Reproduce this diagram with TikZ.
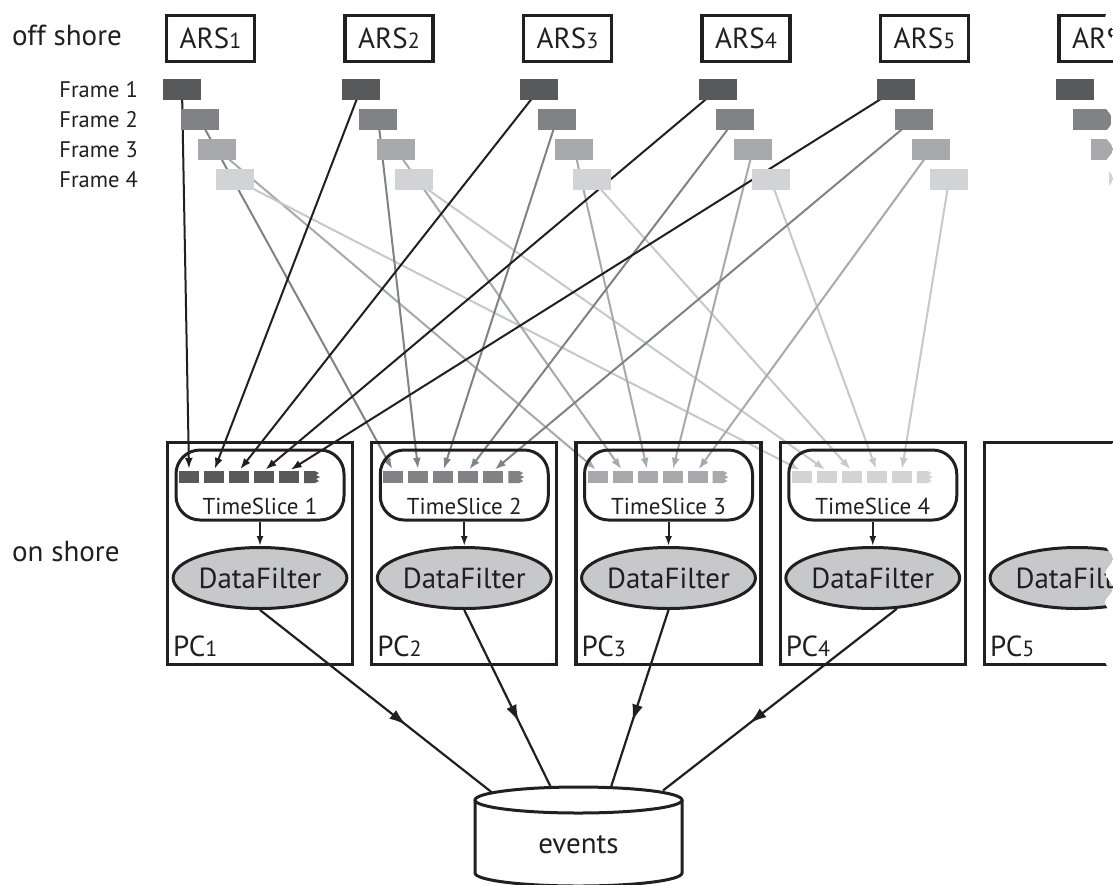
\documentclass[tikz,border=0pt]{standalone}
\usepackage{fontspec}
\setmainfont{PT Sans}
\usetikzlibrary{shapes.geometric,arrows.meta,decorations.markings,calc}
\pgfdeclarelayer{bg}
\pgfsetlayers{bg,main}
\definecolor{ink}{HTML}{231F20}
\definecolor{fA}{HTML}{58595B}
\definecolor{fB}{HTML}{808285}
\definecolor{fC}{HTML}{A7A9AC}
\definecolor{fD}{HTML}{D1D3D4}
\definecolor{lA}{HTML}{231F20}
\definecolor{lB}{HTML}{808285}
\definecolor{lC}{HTML}{A7A9AC}
\definecolor{lD}{HTML}{C7C8CA}
\definecolor{dfgray}{HTML}{C7C8CA}
\newcommand\FontBig{\fontsize{29}{34}\selectfont}
\newcommand\FontFrame{\fontsize{22.5}{26}\selectfont}
\newcommand\FontTS{\fontsize{23}{27}\selectfont}
\newcommand\SmallDigit[1]{{\fontsize{22}{22}\selectfont #1}}
\begin{document}
\begin{tikzpicture}[x=1pt,y=-1pt,
  arsbox/.style={draw=ink, line width=3.2pt, minimum width=88pt, minimum height=46pt, inner sep=0pt, font=\FontBig, text=ink},
  framebox/.style={minimum width=38pt, minimum height=21pt, inner sep=0pt},
  conn/.style={line width=2pt, -{Latex[length=11pt,width=8pt]}, shorten >=2pt},
  pcbox/.style={draw=ink, line width=3.2pt, minimum width=185pt, minimum height=222pt, inner sep=0pt},
  tsbox/.style={draw=ink, line width=3pt, rounded corners=24pt, minimum width=168pt, minimum height=70pt, inner sep=0pt},
  slot/.style={minimum width=20pt, minimum height=12pt, inner sep=0pt},
  filter/.style={ellipse, draw=ink, fill=dfgray, line width=3pt, minimum width=171pt, minimum height=61pt, inner sep=0pt, font=\FontBig, text=ink},
  lbl/.style={font=\FontBig, text=ink, inner sep=0pt},
  outarrow/.style={draw=ink, line width=2.2pt, postaction={decorate},
    decoration={markings, mark=at position 0.63 with {\arrow[ink]{Latex[length=17pt,width=11pt]}}}},
  downarrow/.style={draw=ink, line width=2pt, -{Latex[length=10pt,width=7pt]}},
]
\useasboundingbox (0,0) rectangle (1113,884);
\begin{pgfonlayer}{bg}
\fill[white] (0,0) rectangle (1113,884);
\end{pgfonlayer}
\begin{scope}
\clip (-2,-2) -- (1109,-2) -- plot[variable=\t, domain=-2:886, samples=400] ({1109+4*cos((\t-120)/29.25*360)},{\t}) -- (-2,886) -- cycle;

% side labels
\node[lbl, anchor=base west] (off) at (12,45) {off shore};
\node[lbl, anchor=base west] (on) at (12,561) {on shore};
\foreach \j in {1,...,4} {
  \node[font=\FontFrame, text=ink, inner sep=0pt, anchor=east] (fl\j) at (138,{89.5+30*(\j-1)}) {Frame \j};
}

% ARS boxes and frames
\foreach \i in {1,...,6} {
  \pgfmathsetmacro\ax{210.5+178.5*(\i-1)}
  \node[arsbox] (ars\i) at (\ax,38.5) {ARS\SmallDigit{\i}};
  \foreach \j/\fc in {1/fA,2/fB,3/fC,4/fD} {
    \node[framebox, fill=\fc] (f\i\j) at ({182+178.5*(\i-1)+17.7*(\j-1)},{89.5+30*(\j-1)}) {};
  }
}

% PCs
\foreach \j/\fc in {1/fA,2/fB,3/fC,4/fD} {
  \pgfmathsetmacro\cx{260+204.25*(\j-1)}
  \node[pcbox] (pc\j) at (\cx,553.5) {};
  \node[tsbox] (ts\j) at (\cx,485) {};
  \node[font=\FontTS, text=ink, inner sep=0pt] (tsl\j) at (\cx,506) {TimeSlice \j};
  \foreach \k in {1,...,5} {
    \node[slot, fill=\fc] (s\j\k) at ({189+204.25*(\j-1)+25*(\k-1)},477) {};
  }
  \pgfmathsetmacro\px{304+204.25*(\j-1)}
  \fill[\fc] (\px,471) -- ++(11,0) -- ++(4,2) -- ++(-3,2) -- ++(4,2) -- ++(-4,2) -- ++(3,2) -- ++(-4,2) -- (\px,483) -- cycle;
  \node[filter] (df\j) at (\cx,578) {DataFilter};
  \draw[downarrow] (ts\j) -- (df\j);
  \node[lbl, anchor=base west] (pcl\j) at ({\cx-87},656) {PC\SmallDigit{\j}};
}
% PC5 (cut off)
\node[pcbox] (pc5) at ({260+204.25*4},553.5) {};
\node[filter] (df5) at ({260+204.25*4},578) {DataFilter};
\node[lbl, anchor=base west] (pcl5) at ({260+204.25*4-87},656) {PC\SmallDigit{5}};

% connectors from frames to time slices
\begin{pgfonlayer}{bg}
\foreach \i in {1,...,5} {
  \foreach \j/\lc in {1/lA,2/lB,3/lC,4/lD} {
    \draw[conn, draw=\lc] (f\i\j.center) -- (s\j\i.north);
  }
}
\end{pgfonlayer}

% events storage
\draw[ink, line width=3pt, fill=white] (475,800) -- (475,873) arc[start angle=180, end angle=360, x radius=103.5pt, y radius=13pt] -- (682,800);
\draw[ink, line width=3pt, fill=white] (578.5,800) ellipse [x radius=103.5pt, y radius=13pt];
\node[lbl] (ev) at (578.5,845) {events};
\coordinate (e1) at (492,792.5);
\coordinate (e2) at (551,787.5);
\coordinate (e3) at (611,787);
\coordinate (e4) at (663,790.5);

\draw[outarrow] (df1.south) -- (e1);
\draw[outarrow] (df2.south) -- (e2);
\draw[outarrow] (df3.south) -- (e3);
\draw[outarrow] (df4.-52) -- (e4);
\end{scope}
\end{tikzpicture}
\end{document}
